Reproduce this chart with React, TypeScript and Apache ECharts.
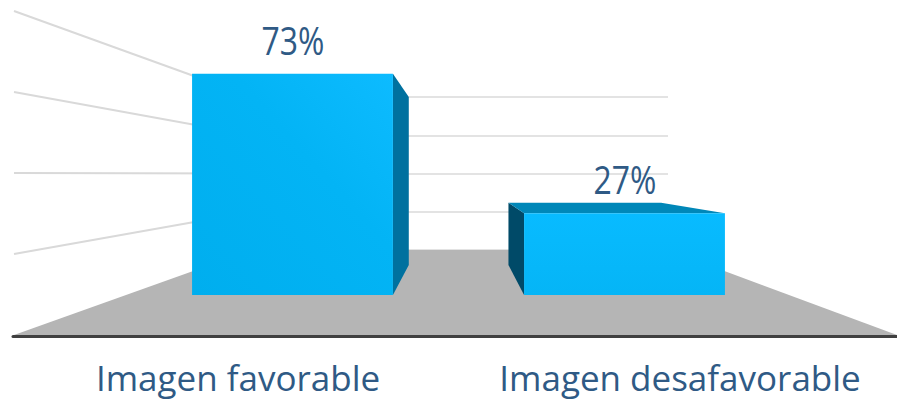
import React, { useEffect, useRef } from "react";
import * as echarts from "echarts";

const categories = ["Imagen favorable", "Imagen desafavorable"];
const barValues = [73, 27];
const gridLevels = [25, 50, 75, 100];

const FONT = "'Open Sans', 'Noto Sans', sans-serif";
const TEXT = "#2F5A85";
const VANISH = { x: 459, y: 170, depth: 0.76 };
const WALL = { frontLeft: 14, frontRight: 897, frontBase: 335, rise: 2.118 };

const toBack = (x: number, y: number) => [
  VANISH.x + (x - VANISH.x) * VANISH.depth,
  VANISH.y + (y - VANISH.y) * VANISH.depth,
];

function renderBar(params: any, api: any) {
  const i = api.value(0);
  const value = api.value(1);
  const top = api.coord([i, value]);
  const base = api.coord([i, 0]);
  const w = api.size([1, 0])[0] * 0.605;
  const x0 = top[0] - w / 2;
  const x1 = top[0] + w / 2;
  const y0 = top[1];
  const y1 = base[1];
  const children: any[] = [];
  const rightSide = x1 < VANISH.x;
  const sx = rightSide ? x1 : x0;
  const a = toBack(sx, y0);
  const b = toBack(sx, y1);
  children.push({
    type: "polygon",
    shape: { points: [[sx, y0], a, b, [sx, y1]] },
    style: { fill: rightSide ? "#00719F" : "#004A68" },
  });
  if (y0 > VANISH.y) {
    children.push({
      type: "polygon",
      shape: { points: [[x0, y0], toBack(x0, y0), toBack(x1, y0), [x1, y0]] },
      style: { fill: "#0087B8" },
    });
  }
  const fill = rightSide
    ? new echarts.graphic.LinearGradient(0, 1, 1, 0, [
        { offset: 0, color: "#00AEEE" },
        { offset: 0.6, color: "#03B4F5" },
        { offset: 1, color: "#0DBBFF" },
      ])
    : new echarts.graphic.LinearGradient(0, 0, 0, 1, [
        { offset: 0, color: "#08BBFF" },
        { offset: 1, color: "#05B5F6" },
      ]);
  children.push({
    type: "rect",
    shape: { x: x0, y: y0, width: w, height: y1 - y0 },
    style: { fill },
  });
  children.push({
    type: "text",
    x: top[0] + 0.5,
    y: y0 - 15,
    scaleX: 0.84,
    style: {
      text: value + "%",
      x: 0,
      y: 0,
      align: "center",
      verticalAlign: "bottom",
      font: `38px ${FONT}`,
      fill: TEXT,
    },
  });
  return { type: "group", children };
}

function renderFloor(params: any, api: any) {
  const l = api.coord([0, 0]);
  const r = api.coord([1, 0]);
  return {
    type: "polygon",
    shape: {
      points: [l, r, [WALL.frontRight, WALL.frontBase], [WALL.frontLeft, WALL.frontBase]],
    },
    style: { fill: "#B5B5B5" },
  };
}

function renderWall(params: any, api: any) {
  const back = api.coord([0, api.value(0)]);
  const floor = api.coord([0, 0]);
  const frontY = WALL.frontBase - (floor[1] - back[1]) * WALL.rise;
  return {
    type: "line",
    shape: { x1: WALL.frontLeft, y1: frontY, x2: back[0], y2: back[1] },
    style: { stroke: "#D9D9D9", lineWidth: 2 },
  };
}

export default function App() {
  const ref = useRef<HTMLDivElement>(null);
  useEffect(() => {
    const chart = echarts.init(ref.current!, undefined, { renderer: "svg" });
    chart.setOption({
      animation: false,
      backgroundColor: "#fff",
      grid: [
        { left: 126.5, width: 664, top: 22.3, height: 272.7 },
        { left: 252, width: 416, top: 97, height: 153 },
        { left: 13, width: 884, top: 300, height: 36 },
      ],
      xAxis: [
        { gridIndex: 0, type: "category", data: categories, show: false },
        { gridIndex: 1, type: "value", min: 0, max: 1, show: false },
        {
          gridIndex: 2,
          type: "category",
          data: categories,
          z: 5,
          axisTick: { show: false },
          axisLine: { show: true, lineStyle: { color: "#404040", width: 3 } },
          axisLabel: {
            color: TEXT,
            fontFamily: FONT,
            fontSize: 35,
            lineHeight: 36,
            margin: 23,
            padding: [0, 0, 0, 8],
            interval: 0,
          },
        },
      ],
      yAxis: [
        { gridIndex: 0, type: "value", min: 0, max: 90, show: false },
        {
          gridIndex: 1,
          type: "value",
          min: 0,
          max: 100,
          interval: 25,
          axisLine: { show: false },
          axisTick: { show: false },
          axisLabel: { show: false },
          splitLine: { show: true, lineStyle: { color: "#E3E3E3", width: 2 } },
        },
        { gridIndex: 2, type: "value", show: false },
      ],
      series: [
        {
          type: "custom",
          name: "floor",
          xAxisIndex: 1,
          yAxisIndex: 1,
          z: 1,
          silent: true,
          clip: false,
          data: [[0]],
          renderItem: renderFloor,
        },
        {
          type: "custom",
          name: "wall",
          xAxisIndex: 1,
          yAxisIndex: 1,
          z: 2,
          silent: true,
          clip: false,
          encode: { y: 0 },
          data: gridLevels.map((v) => [v]),
          renderItem: renderWall,
        },
        {
          type: "custom",
          name: "bars",
          xAxisIndex: 0,
          yAxisIndex: 0,
          z: 3,
          silent: true,
          clip: false,
          encode: { x: 0, y: 1 },
          data: barValues.map((v, i) => [i, v]),
          renderItem: renderBar,
        },
      ],
    });
    return () => chart.dispose();
  }, []);
  return (
    <div
      ref={ref}
      style={{ position: "absolute", left: 0, top: 0, width: 897, height: 401 }}
    />
  );
}
